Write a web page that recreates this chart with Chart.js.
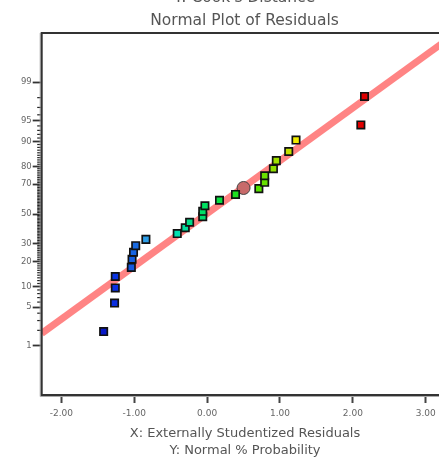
<!DOCTYPE html>
<html lang="en">
<head>
  <meta charset="UTF-8">
  <title>Normal Plot of Residuals</title>
  <script src="https://cdn.jsdelivr.net/npm/chart.js"></script>
  <style>
    html, body { margin: 0; padding: 0; background: #fff; overflow: hidden; width: 439px; height: 459px; }
    #plot { position: absolute; left: 0; top: -14px; }
  </style>
</head>
<body>
  <canvas id="plot" width="489" height="473"></canvas>

  <script>
    // residuals (x) against normal % probability (y), sorted
    const resX = [-1.42, -1.27, -1.26, -1.26, -1.04, -1.03, -1.01, -0.98, -0.84,
                  -0.41, -0.30, -0.24, -0.06, -0.06, -0.03, 0.17, 0.39, 0.71,
                  0.79, 0.79, 0.91, 0.95, 1.12, 1.22, 2.11, 2.16];
    const resY = [1.9, 5.8, 9.6, 13.5, 17.3, 21.2, 25.0, 28.8, 32.7,
                  36.5, 40.4, 44.2, 48.1, 51.9, 55.8, 59.6, 63.5, 67.3,
                  71.2, 75.0, 78.8, 82.7, 86.5, 90.4, 94.2, 98.1];
    const resColors = ['#0818c8', '#0a2ee0', '#0a30e2', '#0a34e2', '#1258e0', '#145ee0', '#1664e2', '#186ae2', '#2e9ee8',
                       '#00e0b0', '#00dc9c', '#00dc88', '#00de6c', '#00de66', '#00e060', '#08e040', '#20e020', '#58e000',
                       '#66e000', '#6ae000', '#90e000', '#a0e000', '#c4e000', '#f0ec00', '#e00000', '#e00000'];

    // highlighted point
    const markX = [0.50];
    const markY = [67.7];

    // reference line
    const fitX = [-2.27, 3.25];
    const fitY = [1.76, 99.88];

    const xTicks = [-2, -1, 0, 1, 2, 3];
    const yTicks = [1, 5, 10, 20, 30, 50, 70, 80, 90, 95, 99];

    // inverse normal cdf (Acklam), percent in -> z out
    function probit(pct) {
      const p = Math.min(Math.max(pct / 100, 1e-9), 1 - 1e-9);
      const a = [-39.69683028665376, 220.9460984245205, -275.9285104469687, 138.3577518672690, -30.66479806614716, 2.506628277459239];
      const b = [-54.47609879822406, 161.5858368580409, -155.6989798598866, 66.80131188771972, -13.28068155288572];
      const c = [-0.007784894002430293, -0.3223964580411365, -2.400758277161838, -2.549732539343734, 4.374664141464968, 2.938163982698783];
      const d = [0.007784695709041462, 0.3224671290700398, 2.445134137142996, 3.754408661907416];
      const pl = 0.02425;
      if (p < pl || p > 1 - pl) {
        const q = Math.sqrt(-2 * Math.log(p < pl ? p : 1 - p));
        const z = (((((c[0]*q+c[1])*q+c[2])*q+c[3])*q+c[4])*q+c[5]) / ((((d[0]*q+d[1])*q+d[2])*q+d[3])*q+1);
        return p < pl ? z : -z;
      }
      const q = p - 0.5, r = q * q;
      return (((((a[0]*r+a[1])*r+a[2])*r+a[3])*r+a[4])*r+a[5])*q / (((((b[0]*r+b[1])*r+b[2])*r+b[3])*r+b[4])*r+1);
    }
    function normCdf(z) {
      const t = 1 / (1 + 0.2316419 * Math.abs(z));
      const y = 0.3989423 * Math.exp(-z * z / 2) * t * (0.3193815 + t * (-0.3565638 + t * (1.781478 + t * (-1.821256 + t * 1.330274))));
      return (z > 0 ? 1 - y : y) * 100;
    }

    // normal probability axis
    class ProbitScale extends Chart.LinearScale {
      determineDataLimits() {
        this.min = probit(this.options.min);
        this.max = probit(this.options.max);
      }
      buildTicks() {
        return yTicks.map(v => ({ value: v }));
      }
      getPixelForValue(value) {
        return super.getPixelForValue(probit(value));
      }
      getValueForPixel(pixel) {
        return normCdf(super.getValueForPixel(pixel));
      }
    }
    ProbitScale.id = 'probit';
    ProbitScale.defaults = Chart.LinearScale.defaults;
    Chart.register(ProbitScale);

    const minorTicks = {
      id: 'minorTicks',
      afterDraw(chart) {
        const y = chart.scales.y, ctx = chart.ctx, L = chart.chartArea.left;
        ctx.save();
        ctx.strokeStyle = '#222';
        ctx.lineWidth = 1.2;
        for (let p = 1; p < 100; p++) {
          if (yTicks.includes(p)) continue;
          const py = y.getPixelForValue(p);
          ctx.beginPath(); ctx.moveTo(L - 4.5, py); ctx.lineTo(L, py); ctx.stroke();
        }
        ctx.restore();
      }
    };

    const frame = {
      id: 'frame',
      afterDraw(chart) {
        const { left, top, right, bottom } = chart.chartArea, ctx = chart.ctx;
        ctx.save();
        ctx.strokeStyle = '#aaa';
        ctx.lineWidth = 1;
        ctx.beginPath();
        ctx.moveTo(left - 1.5, top); ctx.lineTo(left - 1.5, bottom + 1.5); ctx.lineTo(right, bottom + 1.5);
        ctx.stroke();
        ctx.strokeStyle = '#333';
        ctx.lineWidth = 2;
        ctx.strokeRect(left, top, right - left, bottom - top);
        ctx.restore();
      }
    };

    const font = 'DejaVu Sans';

    new Chart(document.getElementById('plot'), {
      type: 'scatter',
      data: {
        datasets: [
          {
            data: resX.map((x, i) => ({ x: x, y: resY[i] })),
            pointStyle: 'rect',
            pointRadius: 5.2,
            pointBackgroundColor: resColors,
            pointBorderColor: '#111',
            pointBorderWidth: 1.7
          },
          {
            data: markX.map((x, i) => ({ x: x, y: markY[i] })),
            pointStyle: 'circle',
            pointRadius: 6.5,
            pointBackgroundColor: '#c86a6a',
            pointBorderColor: '#444',
            pointBorderWidth: 1
          },
          {
            data: fitX.map((x, i) => ({ x: x, y: fitY[i] })),
            showLine: true,
            pointRadius: 0,
            borderColor: '#ff8484',
            borderWidth: 7,
            clip: 0
          }
        ]
      },
      options: {
        responsive: false,
        animation: false,
        events: [],
        layout: { padding: 0 },
        plugins: {
          legend: { display: false },
          tooltip: { enabled: false },
          title: {
            display: true,
            text: ["Y: Cook's Distance", 'Normal Plot of Residuals'],
            color: '#555',
            font: { family: font, size: 15.5, weight: 'normal', lineHeight: '23px' },
            padding: { top: 0, bottom: 1 }
          }
        },
        scales: {
          x: {
            type: 'linear',
            min: -2.27,
            max: 3.31,
            afterBuildTicks: s => { s.ticks = xTicks.map(v => ({ value: v })); },
            afterFit: s => { s.height = 64; },
            ticks: {
              autoSkip: false,
              maxRotation: 0,
              padding: 5,
              color: '#666',
              font: { family: font, size: 9 },
              callback: v => v.toFixed(2)
            },
            grid: { drawOnChartArea: false, tickLength: 8, tickWidth: 2, tickColor: '#444' },
            border: { display: false },
            title: {
              display: true,
              text: ['X: Externally Studentized Residuals', 'Y: Normal % Probability'],
              color: '#555',
              font: { family: font, size: 13, lineHeight: '17px' },
              padding: 0
            }
          },
          y: {
            type: 'probit',
            min: 0.07,
            max: 99.93,
            afterFit: s => { s.width = 41.7; },
            ticks: {
              autoSkip: false,
              padding: 1,
              color: '#666',
              font: { family: font, size: 8.5 },
              callback: v => String(v)
            },
            grid: { drawOnChartArea: false, tickLength: 9, tickWidth: 1.8, tickColor: '#333' },
            border: { display: false }
          },
          yr: {
            type: 'linear',
            position: 'right',
            afterFit: s => { s.width = 40.7; },
            ticks: { display: false },
            grid: { display: false },
            border: { display: false }
          }
        }
      },
      plugins: [minorTicks, frame]
    });
  </script>
</body>
</html>
